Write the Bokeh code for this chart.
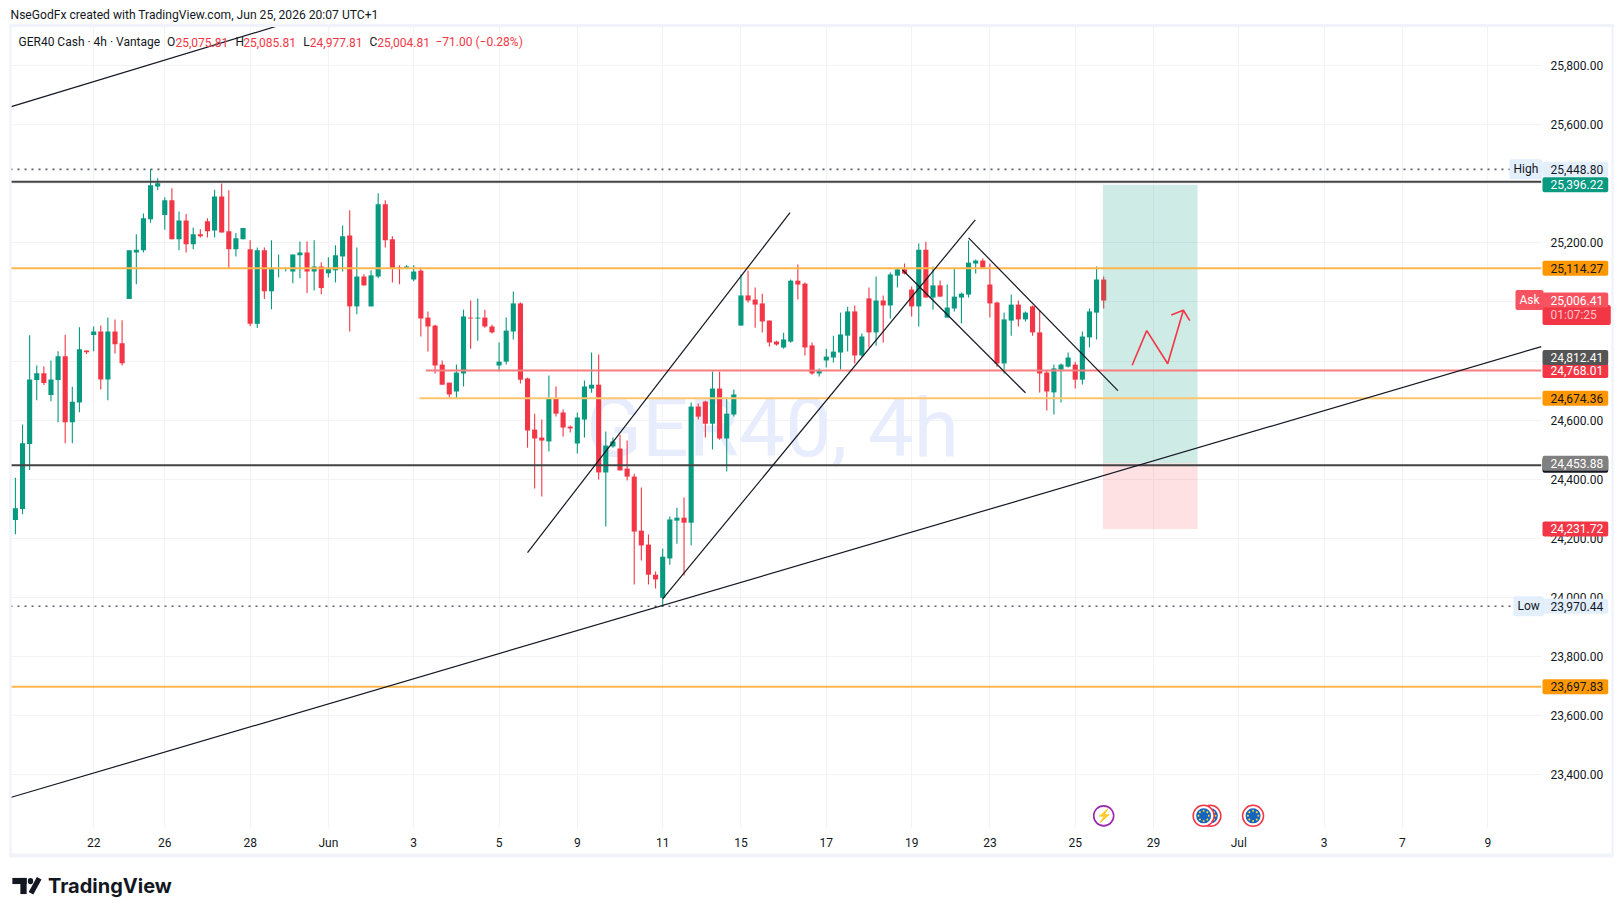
import math
from bokeh.plotting import figure
from bokeh.models import Label, FixedTicker, Range1d, NumeralTickFormatter
from bokeh.embed import file_html
from bokeh.resources import INLINE

# ---------- data ----------
opens = [24262,24299,24519,24736,24759,24685,24736,24816,24593,24660,
24836,24888,24900,24738,24900,24860,25010,25167,25175,25280,
25391,25294,25344,25212,25276,25195,25229,25273,25242,25357,
25239,25178,25212,25178,24926,25175,25036,25112,25112,25103,
25158,25167,25103,25120,25097,25107,25154,25225,24985,25086,
24985,25086,25331,25212,25117,25115,25076,25106,24947,24920,
24788,24727,24697,24758,24947,24944,24947,24917,24785,24798,
24900,24995,24741,24568,24541,24528,24673,24626,24578,24521,
24602,24707,24720,24423,24511,24504,24436,24409,24226,24179,
24077,23999,24132,24260,24270,24253,24646,24663,24588,24707,
24538,24619,24920,25022,25008,24995,24937,24866,24846,24866,
25072,25062,24853,24758,24802,24812,24829,24886,24968,24819,
25012,24897,25005,24988,25089,25110,25042,24985,25177,25015,
25056,24947,24978,25015,25025,25130,25140,25059,24998,24792,
24937,24991,24941,24985,24897,24761,24694,24771,24781,24788,
24737,24880,24964,25075.81]
highs = [24405,24585,24887,24785,24782,24802,24833,24889,24713,24914,
24836,24917,24920,24947,24941,24938,25175,25229,25299,25449,
25419,25354,25385,25306,25298,25252,25246,25283,25380,25401,
25378,25233,25250,25209,25184,25184,25209,25161,25118,25161,
25205,25205,25209,25134,25151,25192,25259,25310,25184,25094,
25107,25368,25344,25222,25124,25124,25124,25117,24968,24923,
24802,24727,24788,24974,25005,25012,24974,24923,24863,24947,
25035,24998,24744,24622,24602,24751,24714,24636,24582,24626,
24734,24829,24822,24562,24541,24551,24531,24419,24372,24213,
24088,24166,24274,24304,24338,24660,24656,24666,24765,24765,
24677,24704,25093,25106,25049,25028,24937,24869,24896,25076,
25127,25066,24863,24775,24842,24886,24964,24984,24988,24893,
25049,25086,25022,25100,25113,25130,25052,25198,25204,25120,
25073,25059,25117,25032,25208,25144,25147,25130,25001,24964,
25025,25005,24968,24988,24971,24768,24788,24792,24829,24798,
24900,24978,25120,25085.81]
lows = [24214,24282,24431,24667,24719,24664,24593,24522,24522,24627,
24824,24833,24704,24667,24826,24785,25010,25060,25167,25268,
25379,25244,25212,25175,25167,25178,25218,25218,25218,25235,
25114,25154,25212,24918,24912,25010,24975,25083,25103,25063,
25080,25030,25039,25026,25083,25066,25103,24900,24958,25056,
24985,25080,25184,25066,25060,25111,25070,24883,24832,24758,
24720,24677,24673,24714,24842,24869,24913,24893,24765,24788,
24873,24724,24507,24369,24342,24494,24612,24545,24558,24487,
24541,24693,24399,24240,24507,24430,24396,24044,24125,24044,
24030,23969,24111,24182,24074,24176,24602,24541,24501,24534,
24426,24612,24920,24998,24913,24897,24849,24852,24842,24862,
25008,24819,24754,24748,24778,24795,24771,24832,24792,24815,
24846,24852,24863,24944,25049,25093,24951,24917,25015,24974,
25018,24947,24968,24927,25015,25096,25116,24947,24781,24758,
24886,24917,24934,24886,24694,24633,24619,24660,24778,24707,
24721,24846,24873,24977.81]
closes = [24302,24522,24738,24759,24726,24738,24816,24593,24662,24840,
24830,24900,24738,24900,24857,24793,25175,25177,25283,25395,
25402,25344,25212,25276,25195,25229,25222,25239,25357,25235,
25178,25216,25250,24926,25175,25036,25111,25115,25115,25161,
25167,25103,25120,25047,25111,25158,25222,24985,25086,25056,
25090,25331,25209,25114,25113,25120,25103,24944,24917,24785,
24720,24687,24761,24951,24944,24947,24917,24897,24798,24903,
24995,24737,24565,24538,24531,24673,24622,24575,24572,24609,
24714,24720,24423,24514,24528,24430,24409,24223,24176,24077,
24061,24138,24264,24270,24253,24646,24612,24588,24707,24538,
24622,24687,25022,25005,24991,24934,24863,24856,24873,25072,
25059,24846,24758,24768,24815,24832,24890,24968,24819,24883,
24897,25005,24988,25093,25110,25096,24985,25177,25015,25056,
25018,24981,25018,25028,25133,25140,25116,24995,24792,24941,
24991,24941,24964,24897,24758,24697,24775,24788,24812,24737,
24883,24968,25076,25004.81]

date_ticks = [11,21,33,44,56,68,79,91,102,114,126,137,149,160,172,184,195,207]
date_labels = ["22","26","28","Jun","3","5","9","11","15","17","19","23","25","29","Jul","3","7","9"]
price_ticks = [23400,23600,23800,24000,24200,24400,24600,24800,25000,25200,25400,25600,25800]

line_long = ([-0.69,214.55],[23323,24849])
line_top = ([-0.69,39.0],[25660,25950])
channel_a = ([72.0,108.9],[24152,25302])
channel_b = ([91.0,134.95],[23995,25278])
down_low = ([124.7,142.0],[25109,24692.6])
down_up = ([134.0,155.0],[25217,24700])
arrow_x = [157,159.05,162,164.2]
arrow_y = [24786,24903,24791,24972]
head_x = [162.5,164.2,165.1]
head_y = [24956,24972,24937]
level_black = [25407,24447]
level_orange = 25114.27
level_orange2 = 23697.83
level_orange3 = 24674.36
level_pink = 24768.01
level_high = 25448.80
level_low = 23970.44
pos_left, pos_right = 152.9, 166.2
pos_top, pos_entry, pos_stop = 25396.22, 24453.88, 24231.72
event_x_bolt = 153
event_x_eu = [168,167.05,174]
event_y = 23261

GREEN="#089981"; RED="#f23645"; FONT="Roboto"
FL,FT,FR,FB = 10,24,1541,828
XMIN,XMAX = -0.69,214.55
YMAX,YMIN = 25938.9,23218.2
PPU = (FB-FT)/(YMAX-YMIN); IPX=(FR-FL)/(XMAX-XMIN)

p = figure(frame_width=FR-FL, frame_height=FB-FT, min_border_left=FL, min_border_top=FT,
           min_border_right=74, min_border_bottom=80,
           x_range=Range1d(XMIN,XMAX), y_range=Range1d(YMIN,YMAX),
           output_backend="svg", toolbar_location=None, background_fill_color="white", border_fill_color="white",
           y_axis_location="right", outline_line_color=None)

for ax in (p.xaxis[0], p.yaxis[0]):
    ax.axis_line_color=None; ax.major_tick_line_color=None; ax.minor_tick_line_color=None
    ax.major_label_text_font=FONT; ax.major_label_text_font_size="12px"; ax.major_label_text_color="#131722"
p.xaxis[0].ticker=FixedTicker(ticks=date_ticks)
p.xaxis[0].major_label_overrides=dict(zip(date_ticks,date_labels))
p.xaxis[0].major_label_standoff=1
p.yaxis[0].ticker=FixedTicker(ticks=price_ticks)
p.yaxis[0].formatter=NumeralTickFormatter(format="0,0.00")
p.yaxis[0].major_label_standoff=3
p.xgrid[0].ticker=FixedTicker(ticks=date_ticks); p.ygrid[0].ticker=FixedTicker(ticks=price_ticks)
p.xgrid[0].grid_line_color="#f2f3f5"; p.ygrid[0].grid_line_color="#f2f3f5"

# watermark
p.add_layout(Label(x=772-FL,y=FB-427,x_units="screen",y_units="screen",text="GER40, 4h",text_font=FONT,
    text_font_size="82px",text_color="#e8edfd",text_align="center",text_baseline="middle",level="underlay"))

# candles
idx=list(range(len(opens)))
cols=[GREEN if c>=o else RED for o,c in zip(opens,closes)]
src=dict(x=idx,h=highs,l=lows,t=[max(o,c) for o,c in zip(opens,closes)],b=[min(o,c) for o,c in zip(opens,closes)],c=cols)
p.segment("x","h","x","l",source=src,line_color="c",line_width=1.1)
p.vbar("x",0.72,"t","b",source=src,fill_color="c",line_color=None)

# position tool
p.quad(left=[pos_left],right=[pos_right],top=[pos_top],bottom=[pos_entry],fill_color=GREEN,fill_alpha=0.2,line_color=None)
p.quad(left=[pos_left],right=[pos_right],top=[pos_entry],bottom=[pos_stop],fill_color=RED,fill_alpha=0.15,line_color=None)

# levels
def hline(y,color,w,x0=XMIN,dash="solid"):
    p.line([x0,XMAX],[y,y],line_color=color,line_width=w,line_dash=dash)
hline(level_high,"#5d606b",1.6,dash="2 5")
hline(level_low,"#5d606b",1.6,dash="2 5")
hline(level_black[0],"#434343",2); hline(level_black[1],"#434343",2)
hline(level_orange,"#ffb74d",2); hline(level_orange2,"#ffb74d",2)
hline(level_orange3,"#ffc46e",2,x0=56.8)
hline(level_pink,"#f77c80",2,x0=57.7)

for xs,ys in (line_long,line_top,channel_a,channel_b,down_low,down_up):
    p.line(xs,ys,line_color="#131722",line_width=1.2)
p.line(arrow_x,arrow_y,line_color=RED,line_width=1.6)
p.line(head_x,head_y,line_color=RED,line_width=1.6)

# events
p.scatter([event_x_bolt],[event_y],size=20,fill_color="white",line_color="#9c27b0",line_width=1.6)
p.text([event_x_bolt],[event_y],text=["⚡"],text_color="#9c27b0",text_align="center",text_baseline="middle",text_font_size="13px")
for ex in event_x_eu:
    p.scatter([ex],[event_y],size=21,fill_color="white",line_color=RED,line_width=1.5)
    p.scatter([ex],[event_y],size=15,fill_color="#1565c0",line_color=None)
    sx=[ex+5.2/IPX*math.cos(a*math.pi/4) for a in range(8)]
    sy=[event_y+5.2/PPU*math.sin(a*math.pi/4) for a in range(8)]
    p.scatter(sx,sy,size=2,fill_color="#fdd835",line_color=None)

# texts
def txt(x,y,s,color="#131722",size="12px",font=FONT,style="normal",**kw):
    p.add_layout(Label(x=x,y=y,x_units="canvas",y_units="canvas",text=s,text_color=color,text_font=font,
        text_font_size=size,text_font_style=style,text_baseline="middle",**kw),"right")
txt(10,14.5,"NseGodFx created with TradingView.com, Jun 25, 2026 20:07 UTC+1",size="12.1px")
txt(18,41.5,"GER40 Cash · 4h · Vantage",size="12px")
for x,s,c in [(166.5,"O","#131722"),(175,"25,075.81",RED),(235,"H","#131722"),(242.7,"25,085.81",RED),
              (302.7,"L","#131722"),(309.3,"24,977.81",RED),(369,"C","#131722"),(376.7,"25,004.81",RED),(435,"−71.00 (−0.28%)",RED)]:
    txt(x,41.5,s,color=c,size="12px")

def tag(price,s,bg,fg="white",x=1542,dy=0,pad=(8,5,3,3)):
    p.add_layout(Label(x=x,y=price,x_units="canvas",text=s,text_color=fg,text_font=FONT,text_font_size="12px",
        text_baseline="middle",background_fill_color=bg,padding=pad,y_offset=dy,border_radius=2),"right")
tag(pos_top,"25,396.22",GREEN)
tag(level_high,"25,448.80","#e3effd","#131722")
tag(level_high,"High","#e3effd","#131722",x=1509,pad=(4,4,3,3))
tag(level_orange,"25,114.27","#ff9800","#131722")
tag(25006.41,"01:07:25",RED,"#fbc4c9",dy=-15,pad=(8,14,3,3))
tag(25006.41,"25,006.41","#f7525f")
tag(25006.41,"Ask","#f7525f",x=1515,pad=(4,4,3,3))
tag(level_pink,"24,768.01",RED)
tag(24812.41,"24,812.41","#555555")
tag(level_orange3,"24,674.36","#ff9800","#131722")
tag(level_black[1],"24,447.00","#131722","#131722")
tag(pos_entry,"24,453.88","#808080")
tag(pos_stop,"24,231.72",RED)
tag(level_orange2,"23,697.83","#ff9800","#131722")
tag(level_low,"23,970.44","#e3effd","#131722")
tag(level_low,"Low","#e3effd","#131722",x=1513,pad=(4,4,3,3))

# solid blocks outside the plot frame: blank labels with a background
def block(cx,cy,w,h,color,angle=0.0,radius=0):
    p.add_layout(Label(x=cx,y=cy,x_units="canvas",y_units="canvas",text=" ",text_font_size="1px",text_align="center",
        text_baseline="middle",background_fill_color=color,padding=(w//2,w-w//2,h//2,h-h//2),angle=angle,border_radius=radius),"right")
# pane border
block(811,25,1604,2,"#f0f3fa"); block(811,855,1604,3,"#f0f3fa")
block(10,440,2,832,"#f0f3fa"); block(1612,440,2,832,"#f0f3fa")
# logo
block(19,880.5,14,5,"#131722"); block(23,885.5,6,15,"#131722")
block(30,880.6,5,5,"#131722",radius=3)
block(34.6,885.3,5,16,"#131722",angle=-0.5)
txt(47.5,885.5,"TradingView",size="20px",font="Inter",style="bold")

open("out.html","w").write(file_html(p,INLINE))
